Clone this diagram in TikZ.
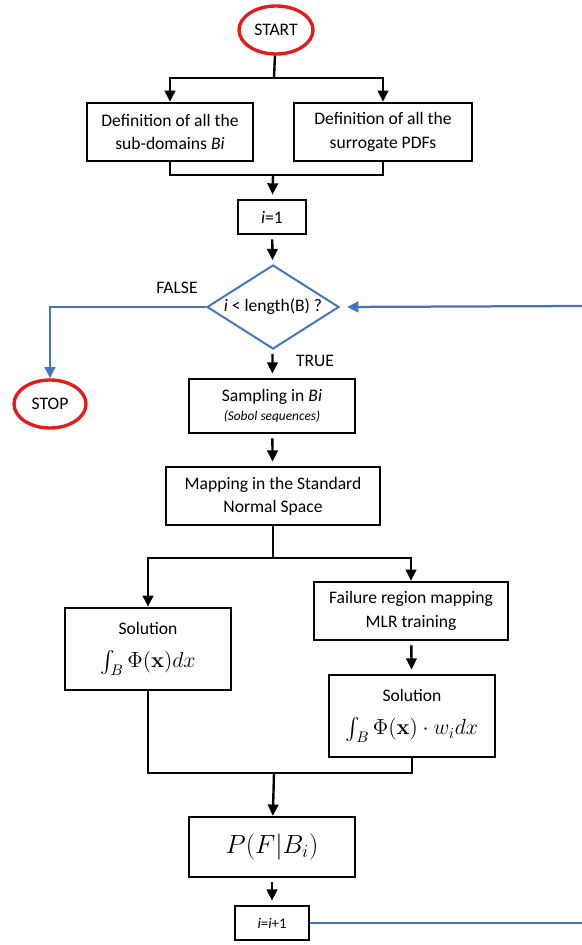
\documentclass[tikz,border=0pt]{standalone}
\usepackage{fix-cm}
\usepackage[no-math]{fontspec}
\setmainfont{Carlito}
\usepackage{amsmath,amssymb}
\usepackage{tikz}
\usetikzlibrary{shapes.geometric,arrows.meta}
\definecolor{flowred}{RGB}{228,28,28}
\definecolor{flowblue}{RGB}{68,114,196}

\begin{document}
\begin{tikzpicture}[x=0.025cm,y=-0.025cm]
\useasboundingbox (0,0) rectangle (582,945);
		\begin{scope}[every node/.style={align=center,inner sep=1pt,font=\fontsize{12.5}{16.5}\selectfont},
              terminal/.style={ellipse,draw=flowred,line width=2.4pt},
              process/.style={rectangle,draw,line width=1.7pt},
              decision/.style={diamond,aspect=1.6,draw=flowblue,line width=1.4pt}]
    \node[terminal,minimum width=1.85cm,minimum height=1.2cm] (start) at (276,30) {START};
    \node[process,minimum width=4.15cm,minimum height=1.45cm] (subdom) at (170,132) {Definition of all the\\sub-domains \textit{Bi}};
    \node[process,minimum width=4.45cm,minimum height=1.45cm] (pdfs) at (383,132) {Definition of all the\\surrogate PDFs};
    \node[process,minimum width=1.7cm,minimum height=0.85cm] (init) at (272,217) {\textit{i}=1};
    \node[decision,minimum width=3.3cm,minimum height=2.1cm,inner sep=0pt] (check) at (273,307) {\textit{i} < length(B) ?};
    \node[terminal,minimum width=1.8cm,minimum height=1.2cm] (stop) at (50,404) {STOP};
    \node[process,minimum width=4.15cm,minimum height=1.35cm] (sampling) at (272,406) {Sampling in \textit{Bi}\\[-3pt]{\fontsize{9.5}{11}\selectfont\itshape (Sobol sequences)}};
    \node[process,minimum width=5.35cm,minimum height=1.45cm] (mapping) at (273,496) {Mapping in the Standard\\Normal Space};
    \node[process,minimum width=4.15cm,minimum height=2.05cm] (solA) at (148,649) {Solution\\[7pt]{\fontsize{15.5}{18}\selectfont $\int_B \Phi(\mathbf{x}) dx$}};
    \node[process,minimum width=4.85cm,minimum height=1.45cm] (failure) at (411,611) {Failure region mapping\\MLR training};
    \node[process,minimum width=4.15cm,minimum height=2.05cm] (solB) at (412,716) {Solution\\[7pt]{\fontsize{15.5}{18}\selectfont $\int_B \Phi(\mathbf{x}) \cdot w_i dx$}};
    \node[process,minimum width=4.15cm,minimum height=1.5cm] (prob) at (272,847) {\fontsize{18.7}{22}\selectfont $P(F|B_i)$};
    \node[process,minimum width=1.85cm,minimum height=0.85cm,font=\fontsize{10.5}{12}\selectfont] (incr) at (272,923) {\textit{i}=\textit{i}+1};
    \node (false) at (177,288) {FALSE};
    \node (true) at (315,361) {TRUE};
	\end{scope}

    \coordinate (split1) at (274,78);
    \coordinate (merge1) at (273,175);
    \coordinate (split2) at (273,558);
    \coordinate (merge2) at (274,773);
    \coordinate (loopout) at (582,923);
    \coordinate (loopin) at (582,306);

	\begin{scope}[>={Triangle[length=8pt,width=7.5pt]},
              every path/.style={line width=1.7pt},
              short/.style={shorten <=3pt,shorten >=3pt}]
    \draw (start) -- (split1);
    \draw [->] (split1) -| (subdom);
    \draw [->] (split1) -| (pdfs);
    \draw (subdom) |- (merge1);
    \draw (pdfs) |- (merge1);
    \draw [->,shorten >=3pt] (merge1) -- (init);
		\draw [->,short] (init) -- (check);
		\draw [->,short] (check) -- (sampling);
		\draw [->,short] (sampling) -- (mapping);
		\draw (mapping) -- (split2);
		\draw [->] (split2) -| (solA);
		\draw [->] (split2) -| (failure);
		\draw [->,short] (failure) -- (solB);
		\draw (solA) |- (merge2);
		\draw (solB) |- (merge2);
		\draw [->] (merge2) -- (prob);
		\draw [->,short] (prob) -- (incr);
		\draw [draw=flowblue,line width=1.6pt,->] (check.west) -| (stop.north);
		\draw [draw=flowblue,line width=1.6pt] (incr.east) -- (loopout);
		\draw [draw=flowblue,line width=1.6pt,->,shorten >=5pt] (loopin) -- (check.east);
\end{scope}
\end{tikzpicture}
\end{document}
